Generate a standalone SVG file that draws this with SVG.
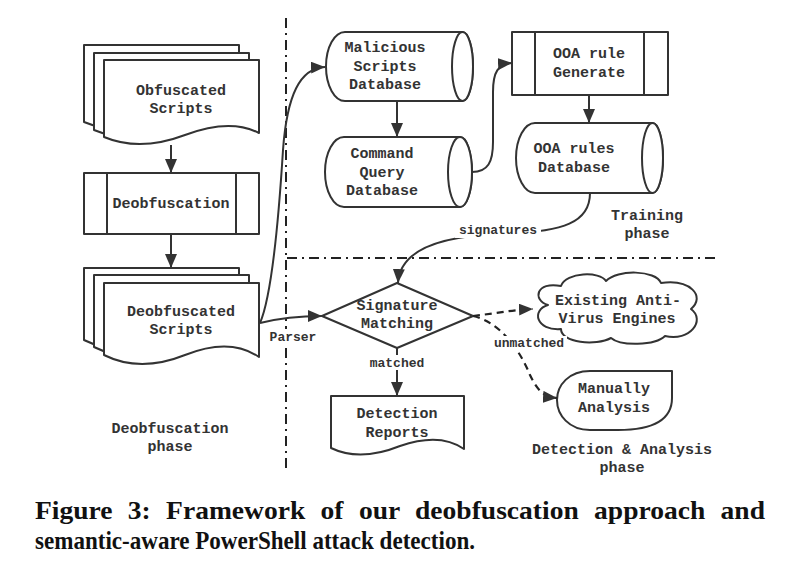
<svg xmlns="http://www.w3.org/2000/svg" width="800" height="570" viewBox="0 0 800 570">
<style>
.s{fill:#fff;stroke:#333;stroke-width:2;stroke-linejoin:round}
.l{fill:none;stroke:#333;stroke-width:2}
.d{fill:none;stroke:#222;stroke-width:2.2;stroke-dasharray:7 5}
.sep{fill:none;stroke:#222;stroke-width:2;stroke-dasharray:10 5 2 5}
.t{font-family:"Liberation Mono","Courier New",monospace;font-weight:bold;font-size:15px;fill:#333;text-anchor:middle}
.lb{font-family:"Liberation Mono","Courier New",monospace;font-weight:bold;font-size:13px;fill:#333;text-anchor:middle}
.cap{font-family:"Liberation Serif","Times New Roman",serif;font-weight:bold;font-size:26px;fill:#111}
</style>
<defs>
<marker id="ah" markerUnits="userSpaceOnUse" markerWidth="14" markerHeight="12" refX="14" refY="6" orient="auto">
<path d="M0,0 L14,6 L0,12 Z" fill="#333"/>
</marker>
<path id="docA" d="M0,0 H155 V73 Q126,58 81,75 Q36,92 0,77 Z"/>
<path id="docB" d="M0,0 H155 V74 Q126,54 81,72 Q36,90 0,72 Z"/>
</defs>
<rect width="800" height="570" fill="#fff"/>

<g id="separators">
<path class="sep" d="M286,18 V472"/>
<path class="sep" d="M287,258 H716"/>
</g>

<g id="obfuscated-scripts">
<use href="#docA" class="s" x="84" y="45"/>
<use href="#docA" class="s" x="94" y="53"/>
<use href="#docA" class="s" x="104" y="60"/>
<text class="t" x="181" y="95">Obfuscated</text>
<text class="t" x="181" y="113">Scripts</text>
</g>

<g id="deobfuscation">
<rect class="s" x="84" y="173" width="175" height="61"/>
<path class="l" d="M107,173 V234 M236,173 V234"/>
<text class="t" x="171" y="208">Deobfuscation</text>
</g>

<g id="deobfuscated-scripts">
<use href="#docB" class="s" x="84" y="268"/>
<use href="#docB" class="s" x="94" y="275"/>
<use href="#docB" class="s" x="104" y="283"/>
<text class="t" x="181" y="316">Deobfuscated</text>
<text class="t" x="181" y="334">Scripts</text>
</g>

<g id="malicious-db">
<path class="s" d="M345,32 H462.5 A10.5,34.5 0 0 1 462.5,101 H345 A19,34.5 0 0 1 345,32 Z"/>
<ellipse class="s" cx="462.5" cy="66.5" rx="10.5" ry="34.5"/>
<text class="t" x="385" y="52">Malicious</text>
<text class="t" x="385" y="71">Scripts</text>
<text class="t" x="385" y="89">Database</text>
</g>

<g id="command-db">
<path class="s" d="M344,137 H460 A12,35 0 0 1 460,207 H344 A19,35 0 0 1 344,137 Z"/>
<ellipse class="s" cx="460" cy="172" rx="12" ry="35"/>
<text class="t" x="382" y="158">Command</text>
<text class="t" x="382" y="177">Query</text>
<text class="t" x="382" y="195">Database</text>
</g>

<g id="ooa-generate">
<rect class="s" x="512" y="32" width="156" height="63"/>
<path class="l" d="M535,32 V95 M644,32 V95"/>
<text class="t" x="589" y="58">OOA rule</text>
<text class="t" x="589" y="77">Generate</text>
</g>

<g id="ooa-db">
<path class="s" d="M535,123 H652.5 A10.5,35 0 0 1 652.5,193 H535 A19,35 0 0 1 535,123 Z"/>
<ellipse class="s" cx="652.5" cy="158" rx="10.5" ry="35"/>
<text class="t" x="574" y="153">OOA rules</text>
<text class="t" x="574" y="172">Database</text>
</g>

<g id="signature-matching">
<path class="s" d="M322,316 L397,283 L473,316 L397,348 Z"/>
<text class="t" x="397" y="310">Signature</text>
<text class="t" x="397" y="328">Matching</text>
</g>

<g id="detection-reports">
<path class="s" d="M331,396 H464 V449 Q440,432 400,446 Q360,462 331,448 Z"/>
<text class="t" x="397" y="418">Detection</text>
<text class="t" x="397" y="437">Reports</text>
</g>

<g id="antivirus">
<path class="s" d="M548,305 C532,300 536,281 561,286 C566,272 600,271 606,281 C617,269 656,270 661,283 C690,279 706,296 691,309 C706,320 690,342 665,336 C655,346 620,346 611,338 C596,346 561,343 561,329 C536,331 531,310 548,305 Z"/>
<text class="t" x="618" y="305">Existing Anti-</text>
<text class="t" x="617" y="323">Virus Engines</text>
</g>

<g id="manual-analysis">
<path class="s" d="M590,371 H672 V398 C672,420 652,430 618,430 H590 C569,430 557,415 557,400 C557,385 569,371 590,371 Z"/>
<text class="t" x="614" y="393">Manually</text>
<text class="t" x="614" y="412">Analysis</text>
</g>

<g id="connectors">
<path class="l" d="M171,145 V173" marker-end="url(#ah)"/>
<path class="l" d="M171,234 V268" marker-end="url(#ah)"/>
<path class="l" d="M260,323 C270,300 278,230 283,150 C287,95 300,68 325,67" marker-end="url(#ah)"/>
<path class="l" d="M260,323 C280,318 300,316 322,316" marker-end="url(#ah)"/>
<path class="l" d="M397,101 V137" marker-end="url(#ah)"/>
<path class="l" d="M472,172 C488,172 493,162 493,142 V92 C493,72 498,64 512,63" marker-end="url(#ah)"/>
<path class="l" d="M589,95 V123" marker-end="url(#ah)"/>
<path class="l" d="M590,193 C590,222 565,232 500,234 C440,236 400,250 398,283" marker-end="url(#ah)"/>
<path class="l" d="M397,348 V396" marker-end="url(#ah)"/>
<path class="d" d="M473,316 C492,314 510,310 533,309" marker-end="url(#ah)"/>
<path class="d" d="M473,316 C500,322 520,350 530,375 C538,392 545,397 557,398" marker-end="url(#ah)"/>
<rect x="455" y="222" width="86" height="16" fill="#fff"/>
<text class="lb" x="498" y="234">signatures</text>
<rect x="268" y="329" width="50" height="14" fill="#fff"/>
<text class="lb" x="293" y="341">Parser</text>
<rect x="365" y="355" width="64" height="15" fill="#fff"/>
<text class="lb" x="397" y="367">matched</text>
<rect x="491" y="336" width="76" height="15" fill="#fff"/>
<text class="lb" x="529" y="347">unmatched</text>
</g>

<g id="phase-labels">
<text class="t" x="170" y="433">Deobfuscation</text>
<text class="t" x="170" y="451">phase</text>
<text class="t" x="647" y="220">Training</text>
<text class="t" x="647" y="238">phase</text>
<text class="t" x="622" y="454">Detection &amp; Analysis</text>
<text class="t" x="622" y="472">phase</text>
</g>

<g id="caption">
<text class="cap" x="35" y="519" word-spacing="8" textLength="730" lengthAdjust="spacingAndGlyphs">Figure 3: Framework of our deobfuscation approach and</text>
<text class="cap" x="35" y="549" textLength="440" lengthAdjust="spacingAndGlyphs">semantic-aware PowerShell attack detection.</text>
</g>
</svg>
